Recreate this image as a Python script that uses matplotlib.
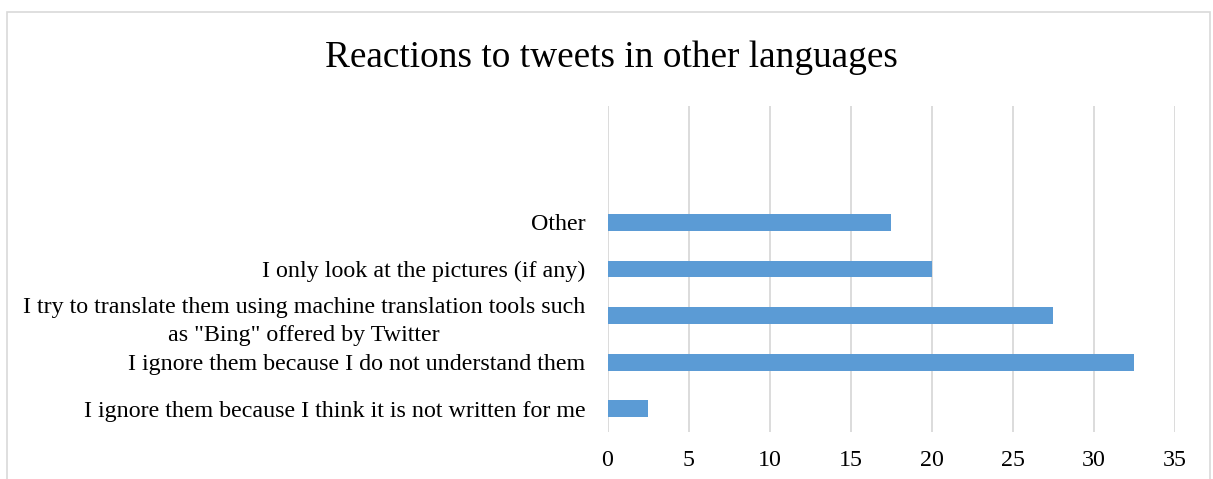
import matplotlib
matplotlib.use("Agg")
import matplotlib.pyplot as plt
from matplotlib.patches import Rectangle

categories = [
    "I ignore them because I think it is not written for me",
    "I ignore them because I do not understand them",
    "I try to translate them using machine translation tools such\nas \"Bing\" offered by Twitter",
    "I only look at the pictures (if any)",
    "Other",
    "",
    "",
]
values = [2.5, 32.5, 27.5, 20, 17.5, None, None]
xticks = [0, 5, 10, 15, 20, 25, 30, 35]
title = "Reactions to tweets in other languages"

plt.rcParams["font.family"] = ["Liberation Serif", "DejaVu Serif"]

fig = plt.figure(figsize=(12.13, 4.79), dpi=100)
W, H = 1213, 479

# outer chart frame
fig.patches.append(Rectangle((7 / W, -0.05), (1210 - 7) / W, 1.05 - 12 / H,
                             transform=fig.transFigure, fill=False,
                             edgecolor="#d9d9d9", linewidth=1.2))

ax = fig.add_axes([607.5 / W, 1 - 432 / H, (1175 - 607.5) / W, (432 - 106) / H])

pos = list(range(len(categories)))
bar_pos = [p for p, v in zip(pos, values) if v is not None]
bar_vals = [v for v in values if v is not None]
ax.barh(bar_pos, bar_vals, height=0.36, color="#5b9bd5", zorder=3)

ax.set_xlim(0, 35)
ax.set_ylim(-0.5, len(categories) - 0.5)
ax.set_xticks(xticks)
ax.set_xticklabels([str(t) for t in xticks], fontsize=17.3)
ax.set_yticks(pos)
ax.set_yticklabels(categories, fontsize=17.3)
ax.tick_params(axis="both", length=0)
ax.tick_params(axis="x", pad=13)
ax.tick_params(axis="y", pad=16)
for lab in ax.get_yticklabels():
    lab.set_multialignment("center")
    lab.set_linespacing(1.45)

ax.grid(axis="x", color="#d9d9d9", linewidth=1.3, zorder=0)
for s in ax.spines.values():
    s.set_visible(False)

fig.text(611 / W, 1 - 58 / H, title, ha="center", va="center", fontsize=26.8)

fig.savefig("out.png", dpi=100)
